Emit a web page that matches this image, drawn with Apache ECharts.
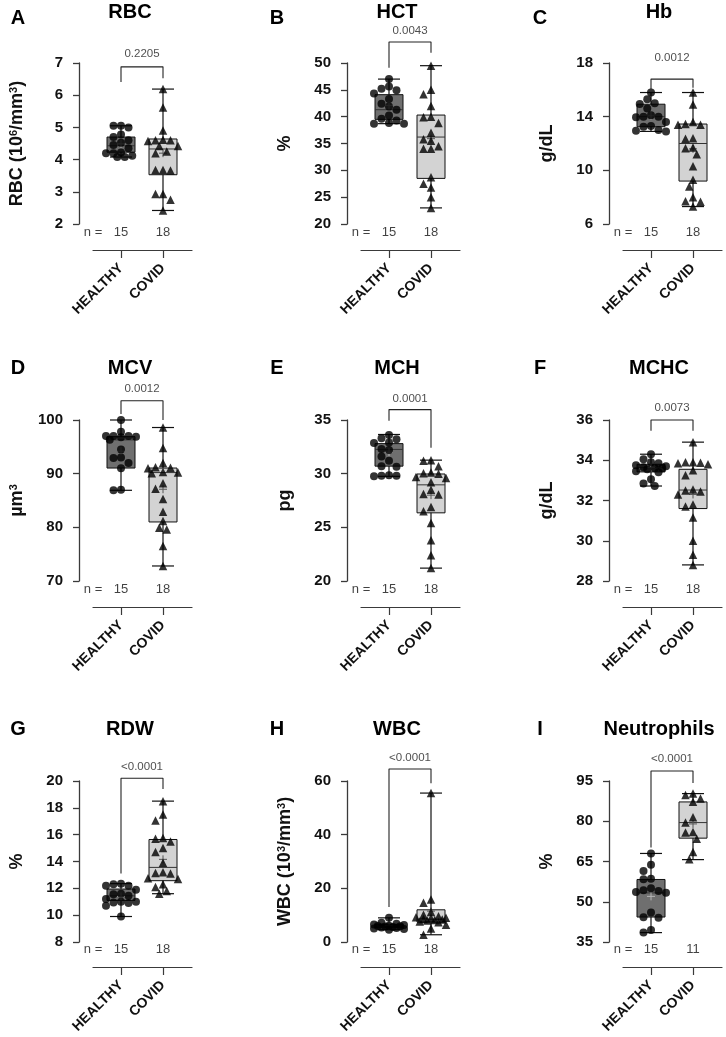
<!DOCTYPE html>
<html>
<head>
<meta charset="utf-8">
<title>CBC box plots</title>
<script src="https://cdn.jsdelivr.net/npm/echarts@6.0.0/dist/echarts.min.js"></script>
<style>
  html, body { margin: 0; padding: 0; background: #fff; }
  #main { width: 726px; height: 1037px; }
</style>
</head>
<body>
<div id="main"></div>
<script>
// ---- values ----
var GROUPS = ['HEALTHY', 'COVID'];

// RBC (10^6/mm^3)
var RBC_HEALTHY = [5.05, 5.05, 5.0, 4.78, 4.7, 4.6, 4.52, 4.45, 4.35, 4.22, 4.2, 4.2, 4.12, 4.08, 4.08];
var RBC_COVID = [6.19, 5.62, 4.9, 4.62, 4.6, 4.6, 4.58, 4.42, 4.42, 4.25, 4.2, 3.68, 3.68, 3.66, 2.93, 2.93, 2.75, 2.42];
// box stats: [min, q1, median, q3, max, mean]
var RBC_BOX_H = [4.08, 4.23, 4.43, 4.70, 5.05, 4.49];
var RBC_BOX_C = [2.42, 3.53, 4.33, 4.64, 6.19, 4.20];

var HCT_HEALTHY = [47.0, 45.6, 45.2, 44.9, 44.3, 43.3, 42.4, 41.9, 41.3, 40.2, 39.6, 39.3, 38.8, 38.7, 38.7];
var HCT_COVID = [49.5, 45.0, 44.2, 42.0, 40.0, 39.9, 38.8, 37.0, 35.8, 35.5, 34.5, 34.0, 34.0, 28.7, 27.5, 26.8, 25.0, 23.0];
var HCT_BOX_H = [38.7, 39.5, 41.3, 44.1, 47.0, 42.1];
var HCT_BOX_C = [23.0, 28.5, 36.2, 40.3, 49.5, 35.9];

var HB_HEALTHY = [15.8, 15.3, 15.0, 14.95, 14.6, 14.1, 14.0, 14.0, 13.95, 13.6, 13.3, 13.25, 13.0, 12.95, 12.9];
var HB_COVID = [15.8, 14.9, 13.6, 13.45, 13.4, 13.4, 12.4, 12.35, 11.7, 11.65, 11.2, 10.3, 9.3, 8.8, 8.0, 7.7, 7.65, 7.3];
var HB_BOX_H = [12.9, 13.25, 14.0, 14.93, 15.8, 14.05];
var HB_BOX_C = [7.3, 9.2, 12.0, 13.45, 15.8, 11.6];

var MCV_HEALTHY = [100, 97.8, 97.0, 97.0, 97.0, 96.9, 96.8, 96.3, 94.5, 93.0, 92.9, 92.0, 91.0, 87.0, 86.9];
var MCV_COVID = [98.6, 94.8, 92.0, 91.2, 91.1, 91.0, 90.3, 90.2, 90.1, 88.2, 87.2, 85.3, 82.9, 81.2, 79.9, 79.6, 76.5, 72.8];
var MCV_BOX_H = [86.9, 91.05, 96.3, 96.9, 100, 94.2];
var MCV_BOX_C = [72.8, 81.0, 90.2, 91.05, 98.6, 87.1];

var MCH_HEALTHY = [33.6, 33.3, 33.2, 32.9, 32.85, 32.3, 32.2, 31.6, 31.2, 30.7, 30.65, 29.85, 29.8, 29.8, 29.75];
var MCH_COVID = [31.25, 31.2, 30.7, 30.1, 30.05, 30.0, 29.7, 29.6, 29.2, 28.5, 28.1, 28.05, 26.9, 26.5, 25.4, 23.8, 22.4, 21.2];
var MCH_BOX_H = [29.75, 30.7, 32.26, 32.8, 33.65, 32.0];
var MCH_BOX_C = [21.2, 26.35, 28.96, 29.97, 31.26, 28.0];

var MCHC_HEALTHY = [34.3, 34.05, 33.9, 33.85, 33.75, 33.7, 33.65, 33.6, 33.6, 33.55, 33.45, 33.4, 33.05, 32.85, 32.72];
var MCHC_COVID = [34.9, 33.9, 33.9, 33.88, 33.85, 33.8, 33.5, 33.25, 32.55, 32.5, 32.45, 32.3, 31.8, 31.7, 31.15, 30.0, 29.3, 28.8];
var MCHC_BOX_H = [32.72, 33.42, 33.63, 33.8, 34.3, 33.65];
var MCHC_BOX_C = [28.8, 31.6, 32.52, 33.55, 34.9, 32.3];

var RDW_HEALTHY = [12.35, 12.3, 12.2, 12.2, 11.9, 11.6, 11.55, 11.45, 11.2, 11.0, 11.0, 10.95, 10.9, 10.7, 9.9];
var RDW_COVID = [18.5, 17.5, 17.05, 15.75, 15.7, 15.5, 15.0, 14.7, 13.9, 13.2, 13.15, 13.1, 12.75, 12.7, 12.3, 12.1, 11.8, 11.6];
var RDW_BOX_H = [9.9, 11.1, 11.44, 11.95, 12.35, 11.4];
var RDW_BOX_C = [11.6, 12.57, 13.56, 15.64, 18.5, 14.16];

var WBC_HEALTHY = [9.0, 7.2, 6.8, 6.5, 6.3, 6.1, 6.0, 5.9, 5.8, 5.6, 5.4, 5.2, 5.0, 4.8, 4.6];
var WBC_COVID = [55.5, 15.8, 14.6, 11.2, 10.2, 9.6, 9.2, 9.0, 8.9, 8.6, 8.4, 8.2, 8.0, 7.6, 7.4, 6.4, 5.0, 2.7];
var WBC_BOX_H = [4.6, 5.3, 5.9, 6.6, 9.0, 6.1];
var WBC_BOX_C = [2.7, 7.4, 8.5, 12.0, 55.5, 11.5];

var NEU_HEALTHY = [68.0, 63.8, 61.5, 58.6, 58.4, 55.0, 54.3, 54.0, 53.6, 53.4, 46.0, 44.2, 44.0, 39.5, 38.5];
var NEU_COVID = [90.3, 89.8, 88.5, 87.3, 81.5, 79.5, 76.0, 75.8, 73.5, 68.5, 65.8];
var NEU_BOX_H = [38.5, 44.3, 53.3, 58.3, 68.0, 52.0];
var NEU_BOX_C = [65.7, 73.7, 79.5, 87.2, 90.3, 79.0];

// significance brackets: [left leg end, top, right leg end] and p-value text level
var BRACKETS = [[6.41, 6.88, 6.53], [49.1, 53.9, 51.9], [16.06, 16.8, 16.15],
                [101.1, 103.6, 100.0], [34.94, 35.97, 32.42], [35.47, 36.0, 35.47],
                [13.1, 20.2, 19.4], [13, 64.5, 59.2], [70.2, 98.7, 94.3]];
var P_TEXT_Y = [7.28, 56.0, 18.37, 105.8, 36.98, 36.6, 21.04, 68.6, 103.1];
var P_VALUES = ['0.2205', '0.0043', '0.0012', '0.0012', '0.0001', '0.0073', '<0.0001', '<0.0001', '<0.0001'];

var Y_RANGES = [[2, 7], [20, 50], [6, 18], [70, 100], [20, 35], [28, 36], [8, 20], [0, 60], [35, 95]];
var Y_TICKS = [[2, 3, 4, 5, 6, 7], [20, 25, 30, 35, 40, 45, 50], [6, 10, 14, 18],
               [70, 80, 90, 100], [20, 25, 30, 35], [28, 30, 32, 34, 36],
               [8, 10, 12, 14, 16, 18, 20], [0, 20, 40, 60], [35, 50, 65, 80, 95]];

var LETTERS = ['A', 'B', 'C', 'D', 'E', 'F', 'G', 'H', 'I'];
var TITLES = ['RBC', 'HCT', 'Hb', 'MCV', 'MCH', 'MCHC', 'RDW', 'WBC', 'Neutrophils'];
var Y_NAMES = ['RBC (10{sup|6}/mm{sup|3})', '%', 'g/dL', 'µm{sup|3}', 'pg', 'g/dL', '%', 'WBC (10{sup|3}/mm{sup|3})', '%'];

var PANELS = [
  [RBC_HEALTHY, RBC_COVID, RBC_BOX_H, RBC_BOX_C],
  [HCT_HEALTHY, HCT_COVID, HCT_BOX_H, HCT_BOX_C],
  [HB_HEALTHY, HB_COVID, HB_BOX_H, HB_BOX_C],
  [MCV_HEALTHY, MCV_COVID, MCV_BOX_H, MCV_BOX_C],
  [MCH_HEALTHY, MCH_COVID, MCH_BOX_H, MCH_BOX_C],
  [MCHC_HEALTHY, MCHC_COVID, MCHC_BOX_H, MCHC_BOX_C],
  [RDW_HEALTHY, RDW_COVID, RDW_BOX_H, RDW_BOX_C],
  [WBC_HEALTHY, WBC_COVID, WBC_BOX_H, WBC_BOX_C],
  [NEU_HEALTHY, NEU_COVID, NEU_BOX_H, NEU_BOX_C]
];

// ---- layout (px) ----
var FONT = 'Liberation Sans, Arial, Helvetica, sans-serif';
var COL_X = [67, 335, 597];
var ROW_TOP = [63, 420, 781];
var PLOT_H = 161;
var N_GAP = [8, 8, 7], LINE_GAP = [26, 26, 25];
var CAT_GAP = 42, FIRST_CAT = 54, GRID_W = 125, FOOT_LEFT = 26, FOOT_W = 99;
var BOX_HALF = 14, CAP_HALF = 11, DOT = 7.5, MAX_SPREAD = 16;
var LETTER_X = [18, 277, 540], TITLE_X = [130, 397, 659];
var LETTER_Y = [18, 368, 729], TITLE_Y = [12, 368, 729];
var HEALTHY_FILL = '#6f6f6f', COVID_FILL = '#d3d3d3';
var INK = '#111';

// horizontal spread of points so that they do not sit on top of each other
function swarm(values, pxPerUnit) {
  var order = values.map(function (v, i) { return i; })
    .sort(function (a, b) { return values[b] - values[a]; });
  var placed = [], offs = [];
  order.forEach(function (i) {
    var y = values[i] * pxPerUnit;
    var best = 0, bestDist = -1;
    for (var k = 0; k * DOT / 2 <= MAX_SPREAD; k++) {
      var cands = k === 0 ? [0] : [-k * DOT / 2, k * DOT / 2];
      for (var c = 0; c < cands.length; c++) {
        var o = cands[c], minD = Infinity;
        placed.forEach(function (p) {
          var d = Math.sqrt((p[0] - o) * (p[0] - o) + (p[1] - y) * (p[1] - y));
          if (d < minD) minD = d;
        });
        if (minD >= DOT) { best = o; bestDist = Infinity; break; }
        if (minD > bestDist) { bestDist = minD; best = o; }
      }
      if (bestDist === Infinity) break;
    }
    placed.push([best, y]);
    offs[i] = best;
  });
  return offs;
}

function renderBox(params, api) {
  var x = api.value(0);
  var lo = api.coord([x, api.value(1)]);
  var q1 = api.coord([x, api.value(2)]);
  var md = api.coord([x, api.value(3)]);
  var q3 = api.coord([x, api.value(4)]);
  var hi = api.coord([x, api.value(5)]);
  var mn = api.coord([x, api.value(6)]);
  var cx = lo[0];
  var healthy = params.dataIndex === 0;
  var ls = { stroke: INK, lineWidth: 1.2 };
  var plus = healthy ? '#b5b5b5' : '#555';
  return {
    type: 'group',
    children: [
      { type: 'line', shape: { x1: cx, y1: hi[1], x2: cx, y2: lo[1] }, style: ls },
      { type: 'line', shape: { x1: cx - CAP_HALF, y1: hi[1], x2: cx + CAP_HALF, y2: hi[1] }, style: ls },
      { type: 'line', shape: { x1: cx - CAP_HALF, y1: lo[1], x2: cx + CAP_HALF, y2: lo[1] }, style: ls },
      { type: 'rect', shape: { x: cx - BOX_HALF, y: q3[1], width: BOX_HALF * 2, height: q1[1] - q3[1] },
        style: { fill: healthy ? HEALTHY_FILL : COVID_FILL, stroke: INK, lineWidth: 1 } },
      { type: 'line', shape: { x1: cx - BOX_HALF, y1: md[1], x2: cx + BOX_HALF, y2: md[1] },
        style: { stroke: '#333', lineWidth: 1 } },
      { type: 'line', shape: { x1: cx - 4, y1: mn[1], x2: cx + 4, y2: mn[1] }, style: { stroke: plus, lineWidth: 1 } },
      { type: 'line', shape: { x1: cx, y1: mn[1] - 4, x2: cx, y2: mn[1] + 4 }, style: { stroke: plus, lineWidth: 1 } }
    ]
  };
}

var option = {
  backgroundColor: '#fff',
  animation: false,
  textStyle: { fontFamily: FONT },
  grid: [], xAxis: [], yAxis: [], series: [], graphic: []
};

PANELS.forEach(function (p, i) {
  var row = Math.floor(i / 3), col = i % 3;
  var ax = COL_X[col], top = ROW_TOP[row], bottom = top + PLOT_H;
  var nY = bottom + N_GAP[row], lineY = bottom + LINE_GAP[row];
  var range = Y_RANGES[i];
  var pxPerUnit = PLOT_H / (range[1] - range[0]);
  var xMin = 1 - FIRST_CAT / CAT_GAP;
  var fMin = 1 - (FIRST_CAT - FOOT_LEFT) / CAT_GAP;
  var g = option.grid.length;

  option.grid.push({ left: ax, top: top, width: GRID_W, height: PLOT_H });
  option.grid.push({ left: ax + FOOT_LEFT, top: nY, width: FOOT_W, height: lineY - nY });

  option.xAxis.push({ gridIndex: g, type: 'value', min: xMin, max: xMin + GRID_W / CAT_GAP, show: false });
  option.xAxis.push({
    gridIndex: g + 1, type: 'value', min: fMin, max: fMin + FOOT_W / CAT_GAP,
    axisLine: { show: true, lineStyle: { color: '#3a3a3a', width: 1.2 } },
    axisTick: { show: true, length: 8, customValues: [1, 2], lineStyle: { color: '#3a3a3a', width: 1.2 } },
    axisLabel: {
      customValues: [1, 2], rotate: 45, margin: 16, color: INK, fontSize: 14, fontWeight: 'bold',
      formatter: function (v) { return GROUPS[Math.round(v) - 1]; }
    },
    splitLine: { show: false }
  });

  option.yAxis.push({
    gridIndex: g, type: 'value', min: range[0], max: range[1],
    name: Y_NAMES[i], nameLocation: 'middle', nameGap: 41,
    nameTextStyle: {
      color: INK, fontSize: 18, fontWeight: 'bold',
      rich: { sup: { fontSize: 11, fontWeight: 'bold', color: INK, verticalAlign: 'top' } }
    },
    axisLine: { show: true, lineStyle: { color: '#3a3a3a', width: 1.3 } },
    axisTick: { show: true, length: 6, customValues: Y_TICKS[i], lineStyle: { color: '#3a3a3a', width: 1.3 } },
    axisLabel: { customValues: Y_TICKS[i], color: INK, fontSize: 15, fontWeight: 'bold', margin: 4 },
    splitLine: { show: false }
  });
  option.yAxis.push({ gridIndex: g + 1, type: 'value', min: 0, max: 1, show: false });

  // boxes and whiskers
  option.series.push({
    type: 'custom', xAxisIndex: g, yAxisIndex: g, z: 2, silent: true,
    renderItem: renderBox,
    encode: { x: 0, y: [1, 2, 3, 4, 5, 6] },
    data: [[1].concat(p[2]), [2].concat(p[3])]
  });

  // individual points
  [0, 1].forEach(function (k) {
    var vals = p[k];
    var offs = swarm(vals, pxPerUnit);
    option.series.push({
      type: 'scatter', xAxisIndex: g, yAxisIndex: g, z: 3, silent: true,
      symbol: k === 0 ? 'circle' : 'triangle',
      symbolSize: k === 0 ? 8 : 8.5,
      itemStyle: { color: '#000' },
      data: vals.map(function (v, j) { return [k + 1 + offs[j] / CAT_GAP, v]; })
    });
  });

  // significance bracket
  var b = BRACKETS[i];
  option.series.push({
    type: 'line', xAxisIndex: g, yAxisIndex: g, z: 2, silent: true, clip: false,
    showSymbol: false, symbol: 'none',
    lineStyle: { color: '#222', width: 1.1 },
    data: [[1, b[0]], [1, b[1]], [2, b[1]], [2, b[2]]]
  });
  option.series.push({
    type: 'scatter', xAxisIndex: g, yAxisIndex: g, silent: true, clip: false,
    symbolSize: 1, itemStyle: { color: 'rgba(0,0,0,0)' },
    label: { show: true, position: 'inside', formatter: '{b}', color: '#222', fontSize: 11.5 },
    data: [{ name: P_VALUES[i], value: [1.5, P_TEXT_Y[i]] }]
  });

  // n = labels
  option.series.push({
    type: 'scatter', xAxisIndex: g + 1, yAxisIndex: g + 1, silent: true, clip: false,
    symbolSize: 1, itemStyle: { color: 'rgba(0,0,0,0)' },
    label: { show: true, position: 'inside', formatter: '{b}', color: INK, fontSize: 13 },
    data: [
      { name: 'n =', value: [fMin, 1] },
      { name: String(p[0].length), value: [1, 1] },
      { name: String(p[1].length), value: [2, 1] }
    ]
  });

  // panel letter and title
  option.graphic.push({
    type: 'text', x: LETTER_X[col], y: LETTER_Y[row], silent: true,
    style: { text: LETTERS[i], fill: '#000', font: 'bold 20px ' + FONT,
             align: 'center', verticalAlign: 'middle', textAlign: 'center', textVerticalAlign: 'middle' }
  });
  option.graphic.push({
    type: 'text', x: TITLE_X[col], y: TITLE_Y[row], silent: true,
    style: { text: TITLES[i], fill: '#000', font: 'bold 20px ' + FONT,
             align: 'center', verticalAlign: 'middle', textAlign: 'center', textVerticalAlign: 'middle' }
  });
});

var chart = echarts.init(document.getElementById('main'));
chart.setOption(option);
</script>
</body>
</html>
